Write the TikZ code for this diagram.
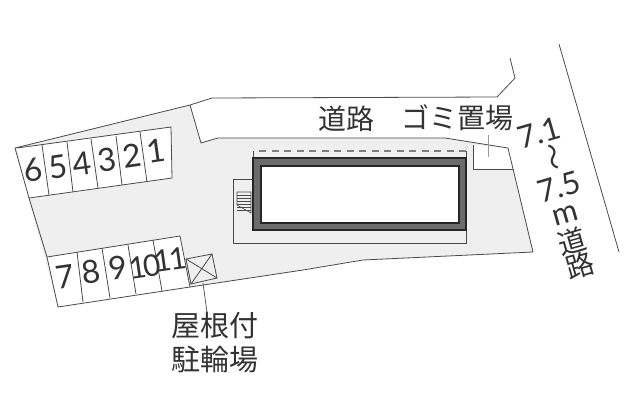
\documentclass[tikz,border=0pt]{standalone}
\usepackage{fontspec}
\setmainfont{Lato}
\newfontfamily\cjk{Noto Sans CJK JP}
\definecolor{lot}{HTML}{EFEFEF}
\definecolor{ln}{HTML}{4A4A4A}
\definecolor{txt}{HTML}{333333}
\tikzset{
  edge/.style={draw=ln,line width=0.8pt,line join=round},
  num/.style={text=txt,font=\fontsize{32}{32}\selectfont,inner sep=0pt,rotate=8},
  numnar/.style={num,font=\fontsize{30}{30}\selectfont},
  jp/.style={text=txt,font=\cjk\fontsize{28}{28}\selectfont,inner sep=0pt},
  jpwide/.style={jp,font=\cjk\fontsize{29}{29}\selectfont},
  rd/.style={text=txt,font=\fontsize{31}{31}\selectfont,inner sep=0pt,rotate=16},
}
\begin{document}
\begin{tikzpicture}[x=1pt,y=-1pt]
\useasboundingbox (0,0) rectangle (640,400);
\fill[white] (0,0) rectangle (640,400);
% gray lot
\fill[lot] (15,148) -- (190,105) -- (201,143) -- (218,138) -- (445,138) -- (508,148) -- (533,252) -- (363,260) -- (303,270) -- (190,287) -- (58,307) -- cycle;
% white parking and gomi
\fill[white] (17,148) -- (171,127) -- (172,178) -- (29,198) -- cycle;
\fill[white] (47,257) -- (180,236) -- (190,287) -- (58,307) -- cycle;
\fill[white] (473,145) -- (508,148) -- (513,169) -- (473,169) -- cycle;
% boundaries
\draw[edge] (29,198) -- (15,148) -- (190,105) -- (212,98) -- (497,97) -- (515,78) -- (510,58);
\draw[edge] (190,105) -- (201,143) -- (218,138) -- (445,138) -- (508,148) -- (533,252) -- (363,260) -- (303,270) -- (190,287) -- (58,307) -- (47,257) -- (29,198);
\draw[edge] (559,44) -- (619,252);
% parking top
\draw[edge] (17,148) -- (171,127) -- (172,178) -- (29,198);
\draw[edge] (42,145) -- (49,195);
\draw[edge] (67,142) -- (73,192);
\draw[edge] (91,139) -- (98,188);
\draw[edge] (116,136) -- (122,185);
\draw[edge] (140,132) -- (147,182);
% parking bottom
\draw[edge] (47,257) -- (180,236) -- (190,287);
\draw[edge] (77,252) -- (83,302);
\draw[edge] (102,248) -- (110,298);
\draw[edge] (128,245) -- (136,294);
\draw[edge] (153,240) -- (162,291);
% bicycle parking
\draw[edge] (186,259) -- (212,254) -- (217,278) -- (191,284) -- cycle;
\draw[edge] (186,259) -- (217,278);
\draw[edge] (212,254) -- (191,284);
\coordinate (bike) at (203,283);
% building
\draw[ln,line width=0.8pt] (233,179) rectangle (466,243);
\fill[white] (252,157) rectangle (467,231);
\draw[draw=black!85,fill=gray!85!black,line width=2pt] (253,158) rectangle (466,230);
\draw[draw=black!85,fill=white,line width=2pt] (260.5,165.5) rectangle (459,223);
\draw[gray,line width=1.2pt,dash pattern=on 7pt off 5.5pt] (259,151) -- (466,151);
\draw[edge] (253,151) -- (253,157);
\draw[edge] (466,151) -- (466,157);
% stairs
\draw[ln,line width=0.6pt] (237,192) -- (251,192) -- (251,213) -- (237,205) -- cycle;
\foreach \yy in {195,198,201,204,207,210}{\draw[ln,line width=0.5pt] (237,\yy) -- (251,\yy);}
% gomi
\draw[edge] (473,145) -- (473,169) -- (513,169);
\draw[gray!80,line width=0.8pt] (488,135) -- (488,157);
% numbers
\node[num] (n6) at (33,170) {6};
\node[num] (n5) at (58,167) {5};
\node[num] (n4) at (82,164) {4};
\node[num] (n3) at (107,160) {3};
\node[num] (n2) at (132,156) {2};
\node[num] (n1) at (156,151) {1};
\node[num] (n7) at (65,277) {7};
\node[num] (n8) at (91,272) {8};
\node[num] (n9) at (118,268) {9};
\node[numnar] (n10) at (145,267) {\kern-1pt 1\kern-3pt 0};
\node[numnar] (n11) at (170,260) {1\kern-2pt 1};
% labels
\node[jp] (road) at (346,119) {道路};
\node[jp] (gomi) at (457.5,118) {ゴミ置場};
\node[jpwide] (l1) at (215,326) {屋根付};
\node[jpwide] (l2) at (215,359) {駐輪場};
\draw[ln,line width=0.7pt] (bike) -- (l1.north -| 207,0);
\node[rd] (w1) at (539,133) {7.1};
\node[jp,rotate=-74] (w2) at (550,158) {〜};
\node[rd] (w3) at (559,187) {7.5};
\node[rd] (w4) at (566,215) {m};
\node[jp,rotate=16] (w5) at (572,241) {道};
\node[jp,rotate=16] (w6) at (580,265) {路};
\end{tikzpicture}
\end{document}
